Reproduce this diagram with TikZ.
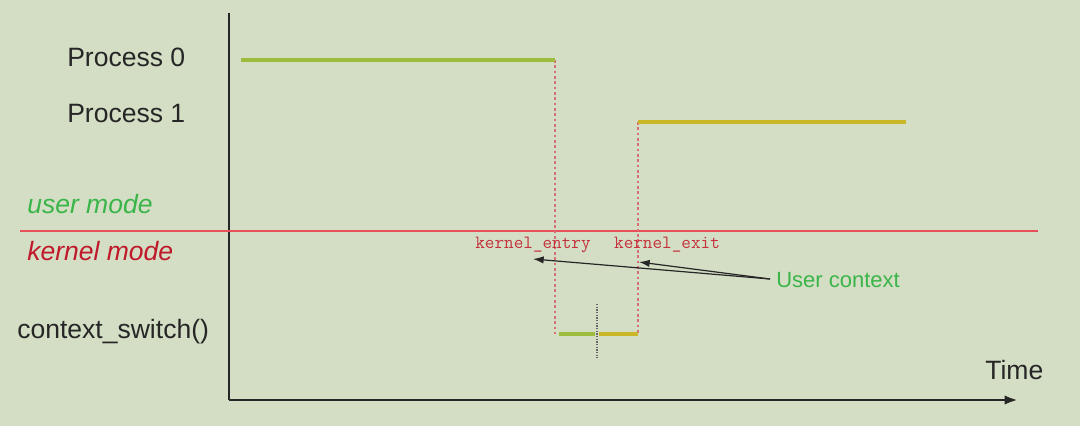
\documentclass[tikz,border=0pt]{standalone}
\usepackage{fontspec}
\setmainfont{Liberation Sans}
\usetikzlibrary{arrows.meta}
\definecolor{bg}{RGB}{211,222,196}
\definecolor{procA}{RGB}{157,187,60}
\definecolor{procB}{RGB}{201,183,40}
\definecolor{modeline}{RGB}{232,80,90}
\definecolor{userg}{RGB}{59,181,74}
\definecolor{kernr}{RGB}{192,25,43}
\definecolor{kmono}{RGB}{196,50,60}
\tikzset{
  lbl/.style={anchor=base west, inner sep=0pt, font=\fontsize{19.9}{24}\selectfont, text=black!85},
  modelbl/.style={lbl, font=\fontsize{19.9}{24}\selectfont\itshape},
  monolbl/.style={anchor=base, inner sep=0pt, font=\ttfamily\fontsize{14}{16}\selectfont, text=kmono},
  axis/.style={line width=2pt, draw=black!85},
  procline/.style={line width=2.8pt},
  switchdash/.style={draw=kmono!70, line width=0.8pt, dash pattern=on 2pt off 2pt},
  ptr/.style={draw=black!85, line width=0.9pt, -{Latex[length=8pt,width=5.5pt]}},
}
\begin{document}
\begin{tikzpicture}[x=0.75pt,y=-0.75pt]
\fill[bg] (0,0) rectangle (1080,426);
\useasboundingbox (0,0) rectangle (1080,426);
% axes
\coordinate (ytop) at (229,13);
\coordinate (orig) at (229,400);
\coordinate (xend) at (1018,400);
\draw[axis] (ytop) -- (orig);
\draw[axis, -{Latex[length=10pt,width=7pt]}] (orig) -- (xend);
% mode separator
\coordinate (ml) at (20,231);
\coordinate (mr) at (1038,231);
\draw[modeline, line width=1.3pt] (ml) -- (mr);
% process lines
\coordinate (p0a) at (241,60);
\coordinate (p0b) at (555,60);
\coordinate (p1a) at (638,122);
\coordinate (p1b) at (906,122);
\coordinate (csa) at (555,334);
\coordinate (csm) at (597,334);
\coordinate (csb) at (638,334);
\draw[switchdash] (p0b) -- (csa);
\draw[switchdash] (p1a) -- (csb);
\draw[procA, procline] (p0a) -- (p0b);
\draw[procB, procline] (p1a) -- (p1b);
\draw[procA, procline] ([xshift=3]csa) -- ([xshift=-1.5]csm);
\draw[procB, procline] ([xshift=1.5]csm) -- (csb);
\coordinate (tk1) at (597,304);
\coordinate (tk2) at (597,358);
\draw[black!60, line width=0.9pt, dash pattern=on 1pt off 1pt] (tk1) -- (tk2);
% labels
\node[lbl] (p0) at (67,66) {Process 0};
\node[lbl] (p1) at (67,122) {Process 1};
\node[modelbl, text=userg] (um) at (27,213) {user mode};
\node[modelbl, text=kernr] (km) at (27,260) {kernel mode};
\node[lbl] (cs) at (17,338) {context\_switch()};
\node[lbl] (tm) at (985,379) {Time};
\node[monolbl] (ke) at (533,248) {kernel\_entry};
\node[monolbl] (kx) at (667,248) {kernel\_exit};
\node[anchor=base west, inner sep=0pt, font=\fontsize{16.5}{20}\selectfont, text=userg] (uc) at (776,287) {User context};
\coordinate (ucs) at (770,279);
\coordinate (t1) at (533,259);
\coordinate (t2) at (639,262);
\draw[ptr] (ucs) -- (t1);
\draw[ptr] (ucs) -- (t2);
\end{tikzpicture}
\end{document}
